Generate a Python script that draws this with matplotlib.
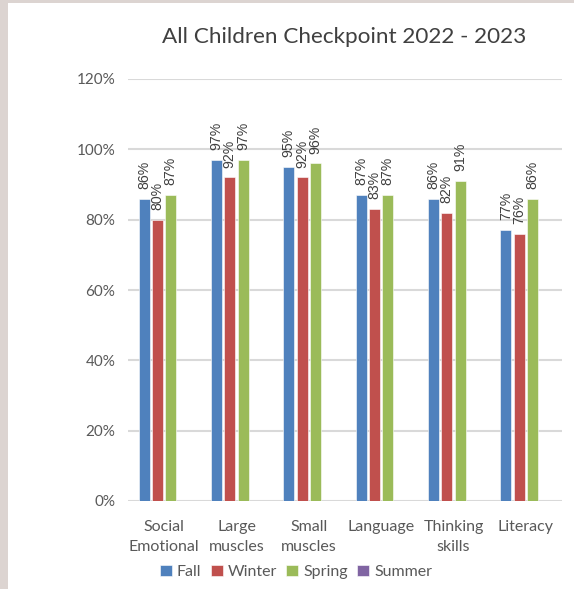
import matplotlib
matplotlib.use("Agg")
import matplotlib.pyplot as plt
import numpy as np
from matplotlib.patches import Rectangle

categories = ["Social\nEmotional", "Large\nmuscles", "Small\nmuscles", "Language", "Thinking\nskills", "Literacy"]
fall = [86, 97, 95, 87, 86, 77]
winter = [80, 92, 92, 83, 82, 76]
spring = [87, 97, 96, 87, 91, 86]
summer = [np.nan] * 6
series_names = ["Fall", "Winter", "Spring", "Summer"]
colors = ["#4F81BD", "#C0504D", "#9BBB59", "#8064A2"]
yticks = [0, 20, 40, 60, 80, 100, 120]

cond = ["Lato", "DejaVu Sans"]
label_font = ["Liberation Sans", "DejaVu Sans"]
txt_color = "#595959"

fig = plt.figure(figsize=(5.74, 5.89), dpi=100)
fig.patch.set_facecolor("white")
# page border strips
fig.patches.append(Rectangle((0, 0), 8 / 574, 1, transform=fig.transFigure,
                             facecolor="#DCD4D1", edgecolor="none", zorder=0))
fig.patches.append(Rectangle((0, 1 - 3 / 589), 1, 3 / 589, transform=fig.transFigure,
                             facecolor="#DCD4D1", edgecolor="none", zorder=0))

ax = fig.add_axes([128 / 574, 88 / 589, 434 / 574, 422 / 589])
x = np.arange(len(categories))
slot = 0.184
bw = 0.155
all_series = [fall, winter, spring, summer]
for i, (vals, name, c) in enumerate(zip(all_series, series_names, colors)):
    off = (i - 1.5) * slot
    bars = ax.bar(x + off, vals, width=bw, color=c, label=name, zorder=3,
                  edgecolor="white", linewidth=0.4)
    for xi, v in zip(x + off, vals):
        if np.isnan(v):
            continue
        ax.annotate(f"{v:g}%", (xi, v), xytext=(0, 7), textcoords="offset points",
                    rotation=90, ha="center", va="bottom", fontsize=10.2,
                    color="#404040", family=label_font)

ax.set_ylim(0, 120)
ax.set_xlim(-0.5, len(categories) - 0.5)
ax.set_yticks(yticks)
ax.set_yticklabels([f"{t}%" for t in yticks], family=cond, fontsize=11, color=txt_color)
ax.set_xticks(x)
ax.set_xticklabels(categories, family=cond, fontsize=11.5, color=txt_color, linespacing=1.55)
ax.tick_params(axis="both", length=0)
ax.tick_params(axis="y", pad=9)
ax.tick_params(axis="x", pad=14)
ax.grid(axis="y", color="#D9D9D9", linewidth=1.5, zorder=0)
for s in ["top", "right", "left", "bottom"]:
    ax.spines[s].set_visible(False)
ax.set_facecolor("none")

fig.text(344 / 574, 1 - 37 / 589, "All Children Checkpoint 2022 - 2023", ha="center", va="center",
         fontsize=16.2, color="#404040", family=cond)

handles, labels = ax.get_legend_handles_labels()
fig.legend(handles, labels, loc="center", bbox_to_anchor=(296 / 574, 1 - 572 / 589), ncol=4,
           frameon=False, handlelength=0.75, handleheight=0.75, handletextpad=0.3,
           columnspacing=0.6, prop={"family": cond, "size": 11.5}, labelcolor=txt_color)

fig.savefig("out.png", dpi=100)
